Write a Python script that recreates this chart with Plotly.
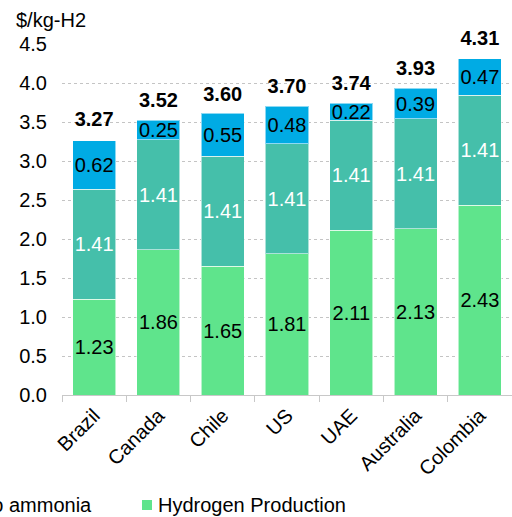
import plotly.graph_objects as go

countries = ["Brazil", "Canada", "Chile", "US", "UAE", "Australia", "Colombia"]
hydrogen_production = [1.23, 1.86, 1.65, 1.81, 2.11, 2.13, 2.43]
conversion_to_ammonia = [1.41, 1.41, 1.41, 1.41, 1.41, 1.41, 1.41]
shipping = [0.62, 0.25, 0.55, 0.48, 0.22, 0.39, 0.47]
totals = [3.27, 3.52, 3.60, 3.70, 3.74, 3.93, 4.31]
y_ticks = [0.0, 0.5, 1.0, 1.5, 2.0, 2.5, 3.0, 3.5, 4.0, 4.5]

FONT = "Liberation Sans, Arial, sans-serif"
FS = 20
GREEN = "#5FE48C"
TEAL = "#45BFAA"
BLUE = "#00ABE4"

fig = go.Figure()

def add_bar(name, vals, color, txtcolor):
    fig.add_trace(go.Bar(
        x=countries, y=vals, name=name,
        marker=dict(color=color, line=dict(color="rgba(255,255,255,0.55)", width=1)),
        texttemplate="%{y:.2f}", textposition="inside", insidetextanchor="middle",
        constraintext="none", textangle=0,
        insidetextfont=dict(family=FONT, size=FS, color=txtcolor),
        showlegend=False, hoverinfo="skip",
    ))

add_bar("Hydrogen Production", hydrogen_production, GREEN, "black")
add_bar("Conversion to ammonia", conversion_to_ammonia, TEAL, "white")
add_bar("Shipping", shipping, BLUE, "black")

fig.add_trace(go.Scatter(
    x=countries, y=totals, mode="markers+text",
    marker=dict(size=12, opacity=0),
    text=[f"{v:.2f}" for v in totals], texttemplate="<b>%{text}</b>",
    textposition="top center",
    textfont=dict(family=FONT, size=FS, color="black"),
    showlegend=False, hoverinfo="skip", cliponaxis=False,
))

fig.update_layout(
    barmode="stack", bargap=0.33,
    width=512, height=517,
    margin=dict(l=62, r=0, t=44, b=122, autoexpand=False),
    paper_bgcolor="white", plot_bgcolor="white",
    font=dict(family=FONT, size=FS, color="black"),
    uniformtext=dict(minsize=FS, mode="show"),
    xaxis=dict(
        type="category", tickangle=-45, tickson="boundaries", ticks="outside",
        ticklen=6, tickcolor="#C8C8C8", showline=True, linecolor="#C8C8C8",
        linewidth=1, showgrid=False, tickfont=dict(family=FONT, size=FS),
    ),
    yaxis=dict(
        range=[0, 4.5], tickvals=y_ticks, ticktext=[f"{v:.1f}" for v in y_ticks],
        showgrid=True, gridcolor="#C4C4C4", griddash="dot", gridwidth=1,
        zeroline=False, showline=False, ticks="", ticklabelstandoff=14,
        tickfont=dict(family=FONT, size=FS),
    ),
    annotations=[
        dict(text="$/kg-H2", xref="paper", yref="paper", x=(14 - 62) / 450, y=(395 - 20) / 351,
             xanchor="left", yanchor="middle", showarrow=False, font=dict(family=FONT, size=FS)),
        dict(text="Conversion to ammonia", xref="paper", yref="paper", x=(94 - 62) / 450,
             y=(395 - 505) / 351, xanchor="right", yanchor="middle", showarrow=False,
             font=dict(family=FONT, size=FS)),
        dict(text="Hydrogen Production", xref="paper", yref="paper", x=(156 - 62) / 450,
             y=(395 - 505) / 351, xanchor="left", yanchor="middle", showarrow=False,
             font=dict(family=FONT, size=FS)),
    ],
    shapes=[
        dict(type="rect", xref="paper", yref="paper",
             x0=(142 - 62) / 450, x1=(152 - 62) / 450,
             y0=(395 - 510) / 351, y1=(395 - 500) / 351,
             fillcolor=GREEN, line=dict(width=0)),
    ],
)

fig.write_html("out.html", config={"displayModeBar": False},
               post_script="document.body.style.margin='0';document.body.style.overflow='hidden';")
